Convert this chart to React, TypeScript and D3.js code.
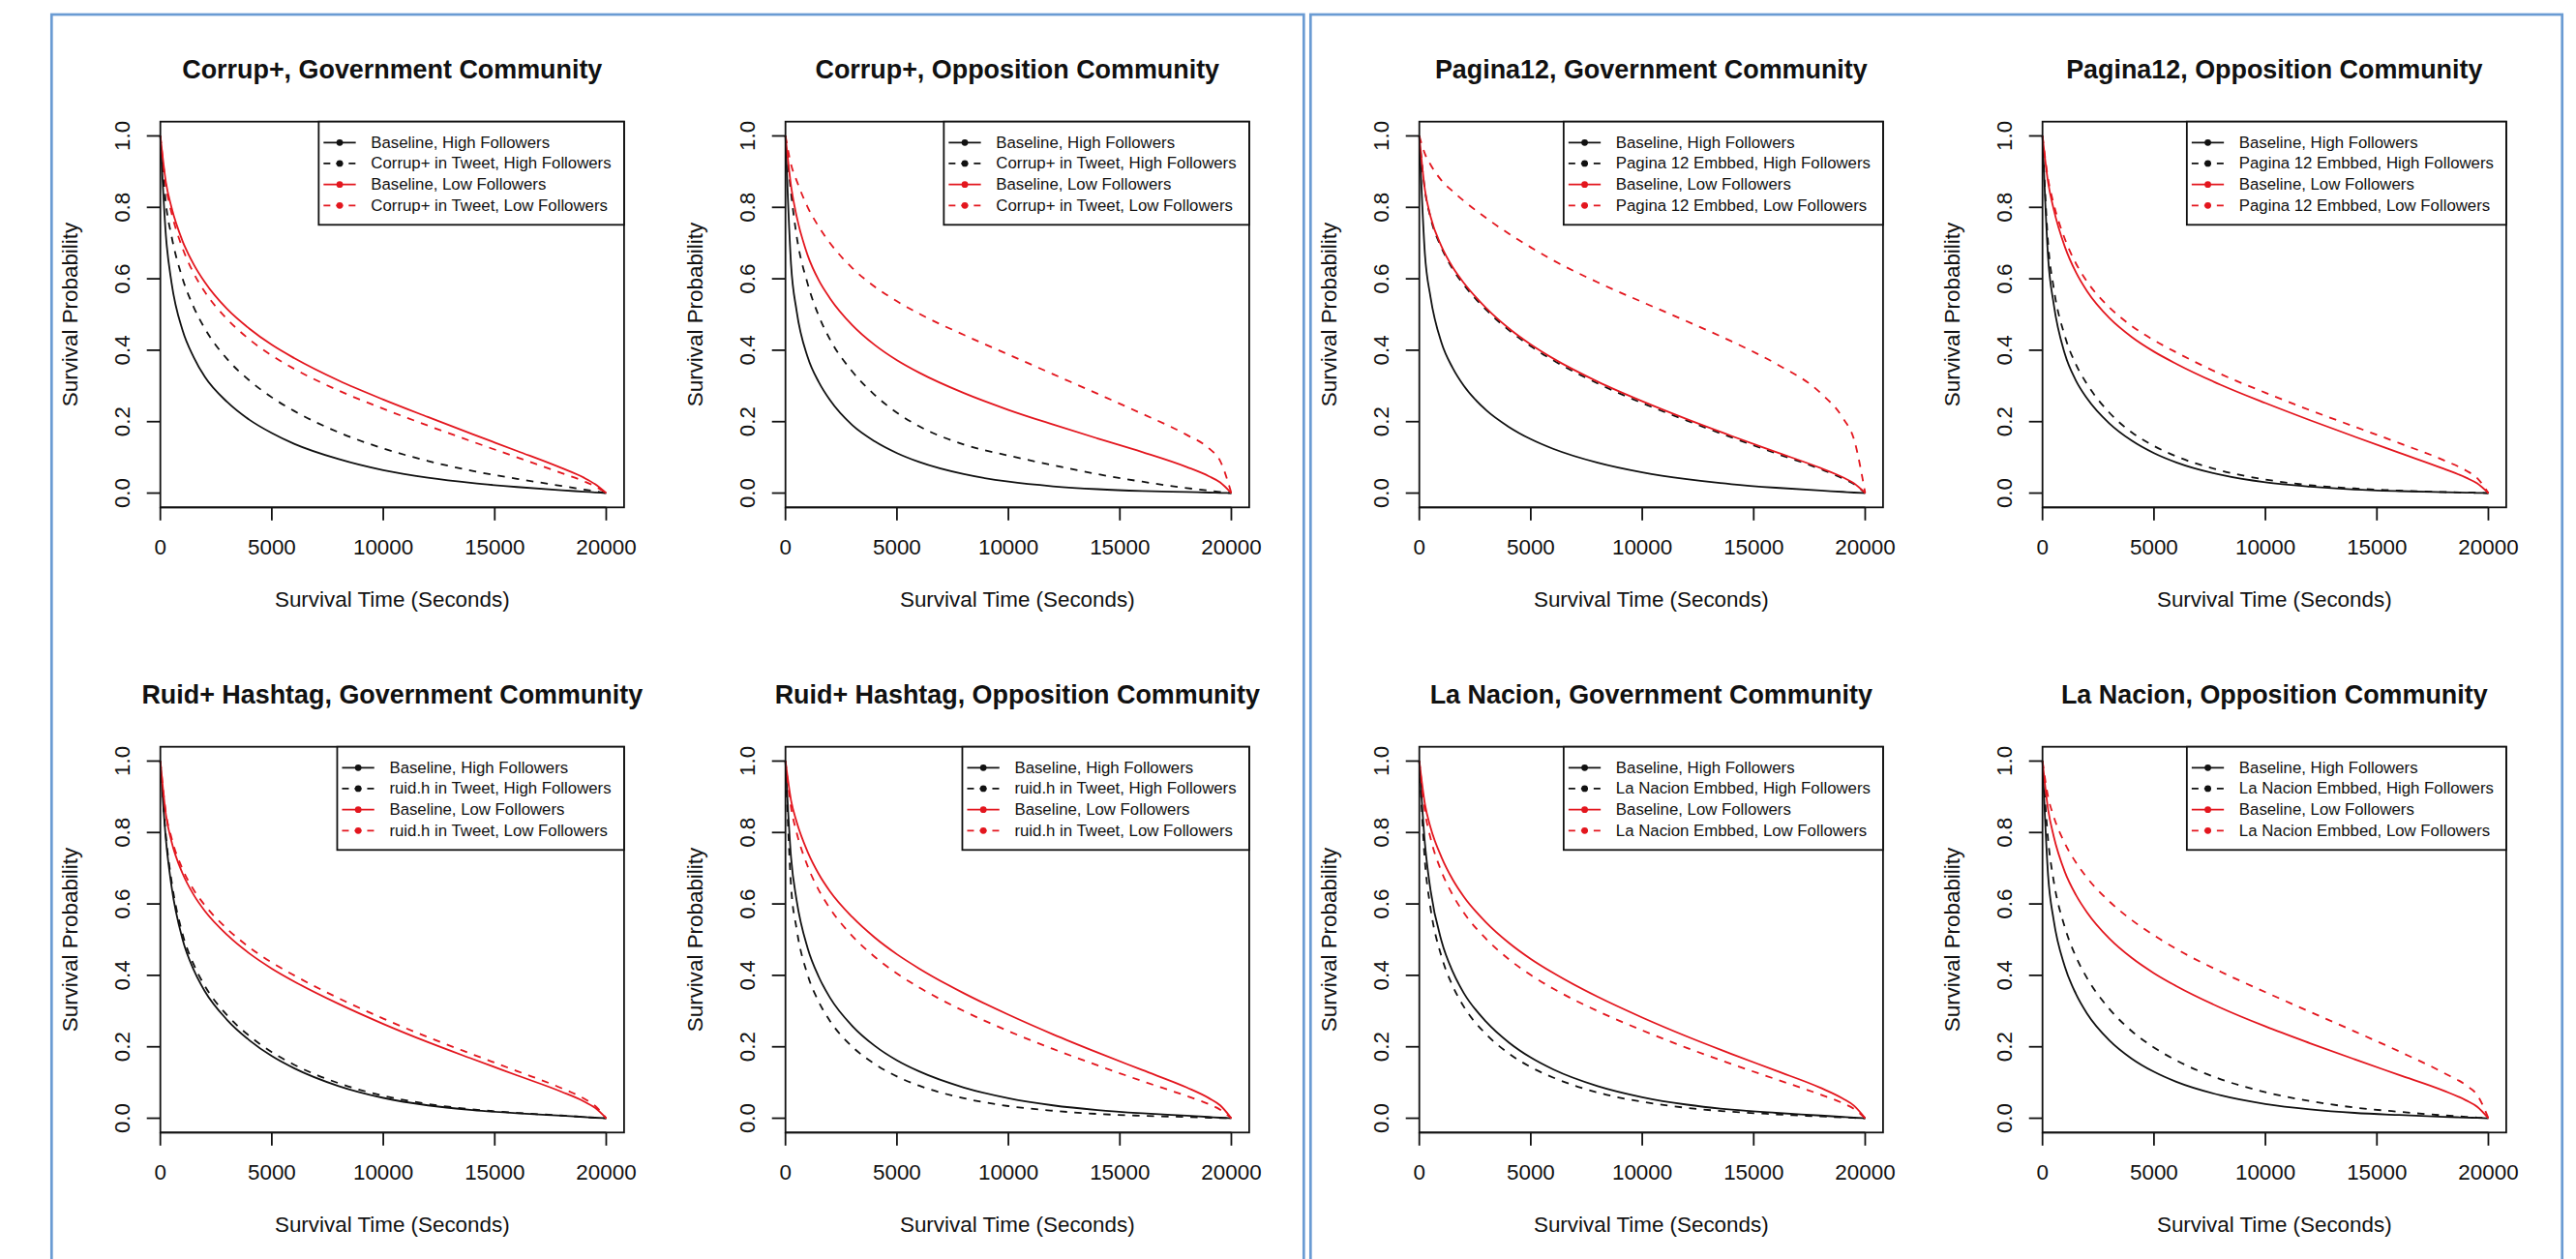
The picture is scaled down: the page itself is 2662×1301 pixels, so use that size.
import React from 'react';
import * as d3 from 'd3';

// ---------- data ----------
const TIMES = [0, 250, 500, 1000, 1500, 2000, 3000, 4000, 5000, 6000, 8000, 10000, 12000, 14000, 16000, 18000, 19000, 19500, 20000];
const X_TICKS = [0, 5000, 10000, 15000, 20000];
const X_TICK_LABELS = ['0', '5000', '10000', '15000', '20000'];
const Y_TICKS = [0, 0.2, 0.4, 0.6, 0.8, 1.0];
const Y_TICK_LABELS = ['0.0', '0.2', '0.4', '0.6', '0.8', '1.0'];

const TITLES = [
  'Corrup+, Government Community',
  'Corrup+, Opposition Community',
  'Pagina12, Government Community',
  'Pagina12, Opposition Community',
  'Ruid+ Hashtag, Government Community',
  'Ruid+ Hashtag, Opposition Community',
  'La Nacion, Government Community',
  'La Nacion, Opposition Community',
];

const LEG_CORRUP = ['Baseline, High Followers', 'Corrup+ in Tweet, High Followers', 'Baseline, Low Followers', 'Corrup+ in Tweet, Low Followers'];
const LEG_PAGINA = ['Baseline, High Followers', 'Pagina 12 Embbed, High Followers', 'Baseline, Low Followers', 'Pagina 12 Embbed, Low Followers'];
const LEG_RUID = ['Baseline, High Followers', 'ruid.h in Tweet, High Followers', 'Baseline, Low Followers', 'ruid.h in Tweet, Low Followers'];
const LEG_NACION = ['Baseline, High Followers', 'La Nacion Embbed, High Followers', 'Baseline, Low Followers', 'La Nacion Embbed, Low Followers'];

// Panel 1: Corrup+, Government
const p1_highBase = [1, 0.72, 0.59, 0.455, 0.38, 0.325, 0.255, 0.205, 0.168, 0.138, 0.095, 0.064, 0.043, 0.028, 0.017, 0.008, 0.004, 0.002, 0];
const p1_highTerm = [1, 0.81, 0.72, 0.6, 0.52, 0.46, 0.375, 0.315, 0.268, 0.23, 0.17, 0.125, 0.09, 0.062, 0.04, 0.02, 0.01, 0.005, 0];
const p1_lowBase = [1, 0.87, 0.8, 0.705, 0.64, 0.59, 0.515, 0.46, 0.415, 0.378, 0.315, 0.262, 0.213, 0.165, 0.118, 0.07, 0.043, 0.025, 0];
const p1_lowTerm = [1, 0.86, 0.785, 0.685, 0.615, 0.563, 0.487, 0.43, 0.385, 0.348, 0.287, 0.236, 0.189, 0.144, 0.1, 0.056, 0.033, 0.019, 0];
// Panel 2: Corrup+, Opposition
const p2_highBase = [1, 0.64, 0.51, 0.38, 0.31, 0.26, 0.19, 0.145, 0.112, 0.087, 0.053, 0.032, 0.019, 0.011, 0.006, 0.003, 0.0015, 0.0007, 0];
const p2_highTerm = [1, 0.84, 0.72, 0.585, 0.495, 0.43, 0.34, 0.275, 0.225, 0.187, 0.136, 0.105, 0.078, 0.053, 0.032, 0.014, 0.007, 0.003, 0];
const p2_lowBase = [1, 0.86, 0.775, 0.665, 0.595, 0.545, 0.47, 0.415, 0.372, 0.337, 0.28, 0.233, 0.192, 0.153, 0.115, 0.073, 0.047, 0.03, 0];
const p2_lowTerm = [1, 0.92, 0.875, 0.8, 0.745, 0.7, 0.63, 0.578, 0.537, 0.502, 0.443, 0.388, 0.333, 0.278, 0.222, 0.163, 0.125, 0.09, 0];
// Panel 3: Pagina12, Government
const p3_highBase = [1, 0.67, 0.55, 0.42, 0.35, 0.3, 0.232, 0.186, 0.151, 0.124, 0.085, 0.058, 0.039, 0.025, 0.015, 0.007, 0.0035, 0.0015, 0];
const p3_highTerm = [1, 0.848, 0.772, 0.686, 0.627, 0.583, 0.513, 0.457, 0.411, 0.372, 0.307, 0.252, 0.203, 0.156, 0.111, 0.067, 0.041, 0.025, 0];
const p3_lowBase = [1, 0.85, 0.775, 0.69, 0.632, 0.588, 0.518, 0.462, 0.416, 0.377, 0.312, 0.257, 0.207, 0.16, 0.115, 0.07, 0.044, 0.027, 0];
const p3_lowTerm = [1, 0.95, 0.92, 0.875, 0.845, 0.818, 0.77, 0.727, 0.688, 0.652, 0.59, 0.535, 0.481, 0.425, 0.362, 0.28, 0.21, 0.15, 0];
// Panel 4: Pagina12, Opposition
const p4_highBase = [1, 0.66, 0.53, 0.39, 0.315, 0.265, 0.195, 0.147, 0.112, 0.086, 0.051, 0.03, 0.018, 0.01, 0.0055, 0.0025, 0.0012, 0.0006, 0];
const p4_highTerm = [1, 0.7, 0.575, 0.44, 0.36, 0.305, 0.225, 0.17, 0.132, 0.103, 0.063, 0.038, 0.022, 0.013, 0.007, 0.003, 0.0015, 0.0007, 0];
const p4_lowBase = [1, 0.87, 0.795, 0.69, 0.618, 0.565, 0.49, 0.437, 0.396, 0.362, 0.303, 0.252, 0.204, 0.158, 0.113, 0.068, 0.043, 0.027, 0];
const p4_lowTerm = [1, 0.88, 0.81, 0.712, 0.643, 0.592, 0.52, 0.468, 0.428, 0.394, 0.333, 0.281, 0.232, 0.186, 0.14, 0.092, 0.063, 0.042, 0];
// Panel 5: Ruid+ Hashtag, Government
const p5_highBase = [1, 0.78, 0.65, 0.5, 0.415, 0.355, 0.275, 0.218, 0.174, 0.14, 0.09, 0.057, 0.036, 0.023, 0.014, 0.007, 0.0035, 0.0015, 0];
const p5_highTerm = [1, 0.79, 0.665, 0.515, 0.43, 0.37, 0.288, 0.23, 0.185, 0.15, 0.098, 0.063, 0.04, 0.025, 0.015, 0.0075, 0.0035, 0.0015, 0];
const p5_lowBase = [1, 0.85, 0.775, 0.685, 0.625, 0.58, 0.513, 0.461, 0.419, 0.383, 0.32, 0.264, 0.213, 0.166, 0.12, 0.074, 0.047, 0.029, 0];
const p5_lowTerm = [1, 0.855, 0.785, 0.697, 0.639, 0.596, 0.53, 0.478, 0.436, 0.4, 0.336, 0.279, 0.227, 0.179, 0.132, 0.084, 0.055, 0.035, 0];
// Panel 6: Ruid+ Hashtag, Opposition
const p6_highBase = [1, 0.73, 0.61, 0.475, 0.395, 0.337, 0.258, 0.203, 0.162, 0.131, 0.086, 0.056, 0.036, 0.023, 0.014, 0.007, 0.0035, 0.0015, 0];
const p6_highTerm = [1, 0.65, 0.53, 0.4, 0.325, 0.272, 0.2, 0.152, 0.117, 0.091, 0.056, 0.034, 0.021, 0.012, 0.007, 0.0035, 0.0015, 0.0007, 0];
const p6_lowBase = [1, 0.89, 0.83, 0.745, 0.683, 0.635, 0.563, 0.506, 0.459, 0.419, 0.35, 0.29, 0.235, 0.184, 0.135, 0.086, 0.056, 0.036, 0];
const p6_lowTerm = [1, 0.87, 0.8, 0.705, 0.638, 0.587, 0.51, 0.452, 0.405, 0.366, 0.3, 0.244, 0.194, 0.148, 0.104, 0.062, 0.039, 0.024, 0];
// Panel 7: La Nacion, Government
const p7_highBase = [1, 0.77, 0.64, 0.495, 0.41, 0.35, 0.27, 0.213, 0.17, 0.137, 0.09, 0.059, 0.038, 0.024, 0.015, 0.0075, 0.0035, 0.0015, 0];
const p7_highTerm = [1, 0.72, 0.59, 0.452, 0.37, 0.312, 0.235, 0.182, 0.143, 0.114, 0.072, 0.046, 0.029, 0.018, 0.011, 0.005, 0.0025, 0.001, 0];
const p7_lowBase = [1, 0.88, 0.815, 0.73, 0.668, 0.62, 0.548, 0.492, 0.446, 0.407, 0.34, 0.282, 0.229, 0.18, 0.133, 0.085, 0.055, 0.035, 0];
const p7_lowTerm = [1, 0.86, 0.785, 0.69, 0.625, 0.575, 0.502, 0.446, 0.401, 0.363, 0.3, 0.246, 0.197, 0.152, 0.109, 0.066, 0.042, 0.026, 0];
// Panel 8: La Nacion, Opposition
const p8_highBase = [1, 0.68, 0.555, 0.425, 0.348, 0.293, 0.218, 0.167, 0.13, 0.102, 0.064, 0.04, 0.025, 0.015, 0.009, 0.004, 0.002, 0.001, 0];
const p8_highTerm = [1, 0.78, 0.665, 0.535, 0.452, 0.392, 0.306, 0.244, 0.198, 0.162, 0.109, 0.073, 0.048, 0.03, 0.018, 0.008, 0.004, 0.002, 0];
const p8_lowBase = [1, 0.865, 0.79, 0.69, 0.625, 0.576, 0.503, 0.449, 0.406, 0.37, 0.309, 0.257, 0.21, 0.165, 0.121, 0.077, 0.05, 0.032, 0];
const p8_lowTerm = [1, 0.9, 0.845, 0.77, 0.716, 0.673, 0.607, 0.555, 0.512, 0.474, 0.41, 0.353, 0.298, 0.243, 0.187, 0.127, 0.092, 0.065, 0];

const PANEL_SERIES = [
  [p1_highBase, p1_highTerm, p1_lowBase, p1_lowTerm],
  [p2_highBase, p2_highTerm, p2_lowBase, p2_lowTerm],
  [p3_highBase, p3_highTerm, p3_lowBase, p3_lowTerm],
  [p4_highBase, p4_highTerm, p4_lowBase, p4_lowTerm],
  [p5_highBase, p5_highTerm, p5_lowBase, p5_lowTerm],
  [p6_highBase, p6_highTerm, p6_lowBase, p6_lowTerm],
  [p7_highBase, p7_highTerm, p7_lowBase, p7_lowTerm],
  [p8_highBase, p8_highTerm, p8_lowBase, p8_lowTerm],
];
const PANEL_LEGENDS = [LEG_CORRUP, LEG_CORRUP, LEG_PAGINA, LEG_PAGINA, LEG_RUID, LEG_RUID, LEG_NACION, LEG_NACION];

// ---------- styles ----------
const FONT = "'Liberation Sans', Arial, Helvetica, sans-serif";
const RED = '#e3161e';
const INK = '#111';
const SERIES_STYLE = [
  { color: INK, dash: null },
  { color: INK, dash: '7.5,7.5' },
  { color: RED, dash: null },
  { color: RED, dash: '7.5,7.5' },
];
const FIG_X = [55.4, 701.4, 1356.4, 2000.4];
const FIG_Y = [15.4, 661.4];
const MAR_L = 110.3, MAR_T = 110.3, PW = 479.2, PH = 398.6;
const AXIS_FS = 22.4, TITLE_FS = 26.9, LEG_FS = 16.8;
const LW = 1.8;

let _ctx: CanvasRenderingContext2D | null = null;
function textWidth(s: string, font: string) {
  if (!_ctx) _ctx = document.createElement('canvas').getContext('2d');
  if (!_ctx) return s.length * 9;
  _ctx.font = font;
  return _ctx.measureText(s).width;
}

function Panel({ idx }: { idx: number }) {
  const col = idx % 4;
  const row = Math.floor(idx / 4);
  const x0 = FIG_X[col] + MAR_L;
  const y0 = FIG_Y[row] + MAR_T;
  const x = d3.scaleLinear().domain([0, 20800]).range([x0, x0 + PW]);
  const y = d3.scaleLinear().domain([-0.04, 1.04]).range([y0 + PH, y0]);
  const line = d3
    .line<number>()
    .x((_, i) => x(TIMES[i]))
    .y((d) => y(d))
    .curve(d3.curveMonotoneX);
  const series = PANEL_SERIES[idx];
  const labels = PANEL_LEGENDS[idx];
  const maxW = Math.max(...labels.map((l) => textWidth(l, `${LEG_FS}px ${FONT}`)));
  const lw = 54 + maxW + 13;
  const lx = x0 + PW - lw;
  const ly = y0;
  const cx = x0 + PW / 2;
  const cy = y0 + PH / 2;
  return (
    <g>
      <text x={cx} y={y0 - 54} textAnchor="middle" dominantBaseline="central" fontFamily={FONT} fontWeight="bold" fontSize={TITLE_FS} fill={INK}>
        {TITLES[idx]}
      </text>
      {series.map((s, i) => (
        <path key={i} d={line(s) || ''} fill="none" stroke={SERIES_STYLE[i].color} strokeWidth={LW} strokeDasharray={SERIES_STYLE[i].dash || undefined} />
      ))}
      <rect x={x0} y={y0} width={PW} height={PH} fill="none" stroke={INK} strokeWidth={LW} />
      {/* x axis */}
      <line x1={x(0)} x2={x(20000)} y1={y0 + PH} y2={y0 + PH} stroke={INK} strokeWidth={LW} />
      {X_TICKS.map((t, i) => (
        <g key={t}>
          <line x1={x(t)} x2={x(t)} y1={y0 + PH} y2={y0 + PH + 13.5} stroke={INK} strokeWidth={LW} />
          <text x={x(t)} y={y0 + PH + 40.7} textAnchor="middle" dominantBaseline="central" fontFamily={FONT} fontSize={AXIS_FS} fill={INK}>
            {X_TICK_LABELS[i]}
          </text>
        </g>
      ))}
      <text x={cx} y={y0 + PH + 95} textAnchor="middle" dominantBaseline="central" fontFamily={FONT} fontSize={AXIS_FS} fill={INK}>
        Survival Time (Seconds)
      </text>
      {/* y axis */}
      {Y_TICKS.map((t, i) => (
        <g key={t}>
          <line x1={x0 - 14} x2={x0} y1={y(t)} y2={y(t)} stroke={INK} strokeWidth={LW} />
          <text transform={`translate(${x0 - 39},${y(t)}) rotate(-90)`} textAnchor="middle" dominantBaseline="central" fontFamily={FONT} fontSize={AXIS_FS} fill={INK}>
            {Y_TICK_LABELS[i]}
          </text>
        </g>
      ))}
      <text transform={`translate(${x0 - 93},${cy}) rotate(-90)`} textAnchor="middle" dominantBaseline="central" fontFamily={FONT} fontSize={AXIS_FS} fill={INK}>
        Survival Probability
      </text>
      {/* legend */}
      <rect x={lx} y={ly} width={lw} height={106.6} fill="white" stroke={INK} strokeWidth={LW} />
      {labels.map((lab, i) => {
        const ry = ly + 21.6 + i * 21.67;
        return (
          <g key={i}>
            <line x1={lx + 5} x2={lx + 38.3} y1={ry} y2={ry} stroke={SERIES_STYLE[i].color} strokeWidth={LW} strokeDasharray={SERIES_STYLE[i].dash ? '7,6' : undefined} />
            <circle cx={lx + 21.7} cy={ry} r={3.4} fill={SERIES_STYLE[i].color} />
            <text x={lx + 54} y={ry} dominantBaseline="central" fontFamily={FONT} fontSize={LEG_FS} fill={INK}>
              {lab}
            </text>
          </g>
        );
      })}
    </g>
  );
}

export default function App() {
  return (
    <svg width={2662} height={1301} style={{ position: 'absolute', left: 0, top: 0, display: 'block', background: 'white' }}>
      <rect x={0} y={0} width={2662} height={1301} fill="white" />
      <rect x={53.3} y={15} width={1294} height={1400} fill="none" stroke="#6a9bd3" strokeWidth={2.7} />
      <rect x={1354.3} y={15} width={1293.4} height={1400} fill="none" stroke="#6a9bd3" strokeWidth={2.7} />
      {d3.range(8).map((i) => (
        <Panel key={i} idx={i} />
      ))}
    </svg>
  );
}
